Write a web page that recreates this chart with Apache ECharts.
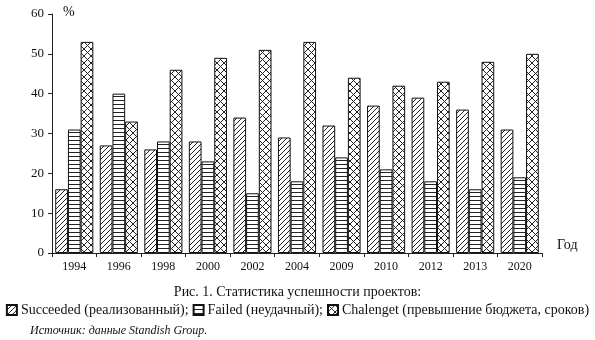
<!DOCTYPE html>
<html><head><meta charset="utf-8">
<script src="https://cdn.jsdelivr.net/npm/echarts@6/dist/echarts.min.js"></script>
<style>html,body{margin:0;padding:0;background:#fff}#c{width:595px;height:340px}</style>
</head><body><div id="c"></div>
<script>
const categories = ['1994','1996','1998','2000','2002','2004','2009','2010','2012','2013','2020'];
const succeeded = [16,27,26,28,34,29,32,37,39,36,31];
const failed    = [31,40,28,23,15,18,24,21,18,16,19];
const challenged= [53,33,46,49,51,53,44,42,43,48,50];
const yTicks = [0,10,20,30,40,50,60];
const seriesNames = ['Succeeded (реализованный);','Failed (неудачный);','Chalenget (превышение бюджета, сроков)'];

function makeTile(w,h,draw){
  const c=document.createElement('canvas');c.width=w;c.height=h;
  const g=c.getContext('2d');g.fillStyle='#fff';g.fillRect(0,0,w,h);
  g.strokeStyle='#222';g.lineWidth=1;draw(g,w,h);return c;
}
const diag = makeTile(5,5,(g,w,h)=>{g.beginPath();g.moveTo(-1,h+1);g.lineTo(w+1,-1);g.moveTo(-1,1);g.lineTo(1,-1);g.moveTo(w-1,h+1);g.lineTo(w+1,h-1);g.stroke();});
const horiz = makeTile(4,4,(g,w,h)=>{g.beginPath();g.moveTo(0,0.5);g.lineTo(w,0.5);g.stroke();});
const cross = makeTile(7,7,(g,w,h)=>{g.beginPath();g.moveTo(0,0);g.lineTo(w,h);g.moveTo(0,h);g.lineTo(w,0);g.stroke();});

const font='"Liberation Serif","Times New Roman",serif';
const chart=echarts.init(document.getElementById('c'),null,{renderer:'canvas'});
function mk(name,data,tile){
  return {name:name,type:'bar',data:data,barWidth:12.7,barGap:'0%',
    itemStyle:{color:{image:tile,repeat:'repeat'},borderColor:'#111',borderWidth:1},
    emphasis:{disabled:true},animation:false};
}
chart.setOption({
  animation:false,
  grid:{left:52,right:53,top:14,bottom:87,containLabel:false},
  xAxis:{type:'category',data:categories,
    axisLine:{lineStyle:{color:'#222',width:1}},
    axisTick:{show:true,length:4,lineStyle:{color:'#222'}},
    axisLabel:{color:'#111',fontFamily:font,fontSize:12,margin:8}},
  yAxis:{type:'value',min:0,max:60,interval:10,
    axisLine:{show:true,lineStyle:{color:'#222',width:1}},
    axisTick:{show:true,length:4,lineStyle:{color:'#222'}},
    splitLine:{show:false},
    axisLabel:{color:'#111',fontFamily:font,fontSize:13,margin:8}},
  legend:{top:298,left:'center',icon:'rect',itemWidth:10,itemHeight:10,itemGap:4,
    textStyle:{fontFamily:font,fontSize:14,color:'#111',padding:[0,0,0,-1]},
    data:seriesNames},
  graphic:[
    {type:'text',left:63,top:5,style:{text:'%',font:'14px '+font,fill:'#111'}},
    {type:'text',left:557,top:238,style:{text:'Год',font:'14px '+font,fill:'#111'}},
    {type:'text',left:'center',top:285,style:{text:'Рис. 1. Статистика успешности проектов:',font:'14px '+font,fill:'#111'}},
    {type:'text',left:30,top:325,style:{text:'Источник: данные Standish Group.',font:'italic 12px '+font,fill:'#111'}}
  ],
  series:[mk(seriesNames[0],succeeded,diag),mk(seriesNames[1],failed,horiz),mk(seriesNames[2],challenged,cross)]
});
</script></body></html>
